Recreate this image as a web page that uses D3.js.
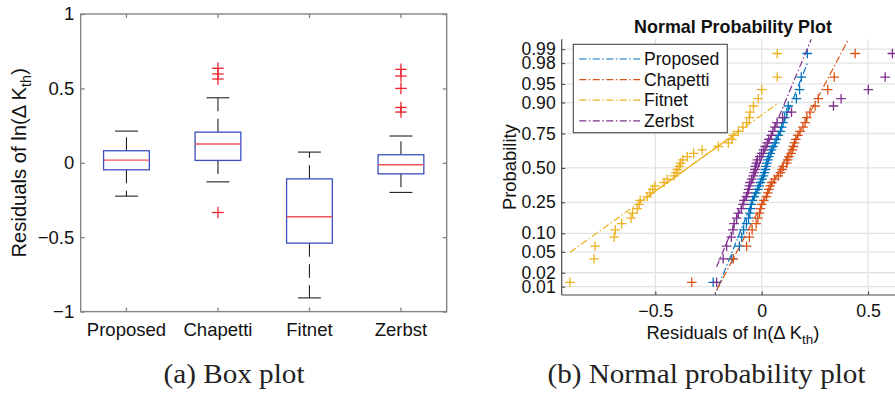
<!DOCTYPE html>
<html>
<head>
<meta charset="utf-8">
<script src="https://cdn.jsdelivr.net/npm/d3@7"></script>
<style>
  body { margin: 0; background: #fff; }
  svg { display: block; }
</style>
</head>
<body>
<svg id="fig" width="895" height="395"></svg>
<script>
// ---------- Box plot summary statistics (residuals of ln(ΔK_th)) ----------
const boxCategories = ["Proposed", "Chapetti", "Fitnet", "Zerbst"];
const boxQ1      = [-0.047, 0.016, -0.540, -0.074];
const boxMedian  = [ 0.018, 0.126, -0.363, -0.013];
const boxQ3      = [ 0.081, 0.206, -0.108,  0.054];
const boxLow     = [-0.224, -0.128, -0.908, -0.199];
const boxHigh    = [ 0.213, 0.437,  0.072,  0.180];
const boxOutliers = [
  [],
  [0.635, 0.597, 0.563, -0.334],
  [],
  [0.628, 0.583, 0.500, 0.372, 0.341]
];
const boxYTicks = [-1, -0.5, 0, 0.5, 1];

// ---------- Normal probability plot samples (sorted residuals) ----------
const probSeries = ["Proposed", "Chapetti", "Fitnet", "Zerbst"];
const probProposed = [
  -0.228, -0.141, -0.105, -0.094, -0.085, -0.072, -0.062, -0.056, -0.052, -0.049,
  -0.043, -0.035, -0.027, -0.018, -0.012, -0.006,  0.002,  0.008,  0.013,  0.017,
   0.020,  0.024,  0.029,  0.033,  0.040,  0.046,  0.053,  0.062,  0.068,  0.078,
   0.088,  0.094,  0.100,  0.108,  0.118,  0.125,  0.163,  0.178,  0.186,  0.214
];
const probChapetti = [
  -0.329, -0.133, -0.071, -0.058, -0.045, -0.026, -0.018, -0.010, -0.006,  0.000,
   0.010,  0.022,  0.028,  0.034,  0.040,  0.047,  0.060,  0.078,  0.088,  0.096,
   0.101,  0.117,  0.122,  0.128,  0.138,  0.144,  0.149,  0.154,  0.160,  0.170,
   0.180,  0.194,  0.204,  0.212,  0.227,  0.251,  0.266,  0.310,  0.341,  0.439
];
const probFitnet = [
  -0.901, -0.788, -0.783, -0.693, -0.688, -0.658, -0.614, -0.607, -0.585, -0.576,
  -0.571, -0.538, -0.525, -0.512, -0.502, -0.459, -0.444, -0.412, -0.403, -0.397,
  -0.387, -0.381, -0.371, -0.350, -0.320, -0.280, -0.204, -0.157, -0.140, -0.134,
  -0.110, -0.089, -0.071, -0.058, -0.055, -0.039, -0.016,  0.000,  0.073,  0.073
];
const probZerbst = [
  -0.212, -0.181, -0.165, -0.143, -0.135, -0.130, -0.118, -0.110, -0.096, -0.088,
  -0.084, -0.072, -0.066, -0.062, -0.058, -0.055, -0.047, -0.040, -0.036, -0.032,
  -0.030, -0.025, -0.020, -0.009, -0.001,  0.008,  0.016,  0.026,  0.033,  0.045,
   0.052,  0.062,  0.072,  0.098,  0.140,  0.337,  0.373,  0.501,  0.580,  0.614
];
const probColors = ["#0072BD", "#D95319", "#EDB120", "#7E2F8E"];
const probTicks = [0.01, 0.02, 0.05, 0.10, 0.25, 0.50, 0.75, 0.90, 0.95, 0.98, 0.99];
const probXTicks = [-0.5, 0, 0.5];

// ---------- helpers ----------
const sans = "'Liberation Sans', Arial, Helvetica, sans-serif";
const serif = "'Liberation Serif', 'Times New Roman', serif";
const svg = d3.select("#fig");

// inverse standard normal CDF (Acklam's rational approximation)
function normInv(p) {
  const a = [-3.969683028665376e+01, 2.209460984245205e+02, -2.759285104469687e+02,
             1.383577518672690e+02, -3.066479806614716e+01, 2.506628277459239e+00];
  const b = [-5.447609879822406e+01, 1.615858368580409e+02, -1.556989798598866e+02,
             6.680131188771972e+01, -1.328068155288572e+01];
  const c = [-7.784894002430293e-03, -3.223964580411365e-01, -2.400758277161838e+00,
             -2.549732539343734e+00, 4.374664141464968e+00, 2.938163982698783e+00];
  const d = [7.784695709041462e-03, 3.224671290700398e-01, 2.445134137142996e+00,
             3.754408661907416e+00];
  const pl = 0.02425;
  let q, r;
  if (p < pl) {
    q = Math.sqrt(-2 * Math.log(p));
    return (((((c[0]*q+c[1])*q+c[2])*q+c[3])*q+c[4])*q+c[5]) /
           ((((d[0]*q+d[1])*q+d[2])*q+d[3])*q+1);
  } else if (p <= 1 - pl) {
    q = p - 0.5; r = q * q;
    return (((((a[0]*r+a[1])*r+a[2])*r+a[3])*r+a[4])*r+a[5])*q /
           (((((b[0]*r+b[1])*r+b[2])*r+b[3])*r+b[4])*r+1);
  } else {
    q = Math.sqrt(-2 * Math.log(1 - p));
    return -(((((c[0]*q+c[1])*q+c[2])*q+c[3])*q+c[4])*q+c[5]) /
            ((((d[0]*q+d[1])*q+d[2])*q+d[3])*q+1);
  }
}

// percentile with midpoint plotting positions and linear interpolation
function prctile(sorted, p) {
  const n = sorted.length;
  const pos = p * n + 0.5;
  if (pos <= 1) return sorted[0];
  if (pos >= n) return sorted[n - 1];
  const lo = Math.floor(pos), f = pos - lo;
  return sorted[lo - 1] + f * (sorted[lo] - sorted[lo - 1]);
}

function plus(g, cx, cy, h, color, w) {
  g.append("line").attr("x1", cx - h).attr("x2", cx + h).attr("y1", cy).attr("y2", cy)
    .attr("stroke", color).attr("stroke-width", w);
  g.append("line").attr("x1", cx).attr("x2", cx).attr("y1", cy - h).attr("y2", cy + h)
    .attr("stroke", color).attr("stroke-width", w);
}

// =================== (a) Box plot ===================
const A = { left: 80.7, right: 446.7, top: 14, bottom: 311.6 };
const bx = d3.scaleBand().domain(boxCategories).range([A.left, A.right]).padding(0);
const by = d3.scaleLinear().domain([-1, 1]).range([A.bottom, A.top]);
const bw = bx.bandwidth();
const axisGrey = "#858585";

const gA = svg.append("g");

boxCategories.forEach((cat, i) => {
  const cx = bx(cat) + bw / 2;
  const half = bw * 0.25, capHalf = bw * 0.125;
  const g = gA.append("g");
  // whiskers (dashed, from box edge outward)
  g.append("line").attr("x1", cx).attr("x2", cx)
    .attr("y1", by(boxQ3[i])).attr("y2", by(boxHigh[i]))
    .attr("stroke", "#222").attr("stroke-width", 1.1).attr("stroke-dasharray", "13.5,7.5");
  g.append("line").attr("x1", cx).attr("x2", cx)
    .attr("y1", by(boxQ1[i])).attr("y2", by(boxLow[i]))
    .attr("stroke", "#222").attr("stroke-width", 1.1).attr("stroke-dasharray", "13.5,7.5");
  // caps
  [boxHigh[i], boxLow[i]].forEach(v => {
    g.append("line").attr("x1", cx - capHalf).attr("x2", cx + capHalf)
      .attr("y1", by(v)).attr("y2", by(v))
      .attr("stroke", "#222").attr("stroke-width", 1.1);
  });
  // box
  g.append("rect").attr("x", cx - half).attr("width", 2 * half)
    .attr("y", by(boxQ3[i])).attr("height", by(boxQ1[i]) - by(boxQ3[i]))
    .attr("fill", "none").attr("stroke", "#3a4fbf").attr("stroke-width", 1.3);
  // median
  g.append("line").attr("x1", cx - half).attr("x2", cx + half)
    .attr("y1", by(boxMedian[i])).attr("y2", by(boxMedian[i]))
    .attr("stroke", "#f0505c").attr("stroke-width", 1.4);
  // outliers
  boxOutliers[i].forEach(v => plus(g, cx, by(v), 5.8, "#ec2330", 1.3));
});

// frame
gA.append("rect").attr("x", A.left).attr("y", A.top)
  .attr("width", A.right - A.left).attr("height", A.bottom - A.top)
  .attr("fill", "none").attr("stroke", axisGrey).attr("stroke-width", 1.4);

// y axis left
const yAxisA = gA.append("g").attr("transform", `translate(${A.left},0)`)
  .call(d3.axisLeft(by).tickValues(boxYTicks).tickSize(-4).tickPadding(6.5)
    .tickFormat(d => d3.format("")(d)));
yAxisA.select(".domain").remove();
yAxisA.selectAll(".tick line").attr("stroke", axisGrey).attr("stroke-width", 1.3);
yAxisA.selectAll(".tick text").attr("font-family", sans).attr("font-size", 18.5)
  .attr("fill", "#111");
// mirrored ticks on right
const yAxisA2 = gA.append("g").attr("transform", `translate(${A.right},0)`)
  .call(d3.axisRight(by).tickValues(boxYTicks).tickSize(-4).tickFormat(""));
yAxisA2.select(".domain").remove();
yAxisA2.selectAll(".tick line").attr("stroke", axisGrey).attr("stroke-width", 1.3);

// x axis bottom (categories)
const xAxisA = gA.append("g").attr("transform", `translate(0,${A.bottom})`)
  .call(d3.axisBottom(bx).tickSize(-4).tickPadding(10.8));
xAxisA.select(".domain").remove();
xAxisA.selectAll(".tick line").attr("stroke", axisGrey).attr("stroke-width", 1.3);
xAxisA.selectAll(".tick text").attr("font-family", sans).attr("font-size", 18.5)
  .attr("fill", "#111");
const xAxisA2 = gA.append("g").attr("transform", `translate(0,${A.top})`)
  .call(d3.axisTop(bx).tickSize(-4).tickFormat(""));
xAxisA2.select(".domain").remove();
xAxisA2.selectAll(".tick line").attr("stroke", axisGrey).attr("stroke-width", 1.3);

// y label
const ylA = gA.append("text")
  .attr("transform", `translate(26,${(A.top + A.bottom) / 2}) rotate(-90)`)
  .attr("text-anchor", "middle").attr("font-family", sans).attr("font-size", 20.2)
  .attr("fill", "#111");
ylA.append("tspan").text("Residuals of ln(Δ K");
ylA.append("tspan").attr("font-size", 14.5).attr("dy", 5).text("th");
ylA.append("tspan").attr("dy", -5).text(")");

// caption
svg.append("text").attr("x", 234).attr("y", 382.7).attr("text-anchor", "middle")
  .attr("font-family", serif).attr("font-size", 27).attr("fill", "#222")
  .attr("textLength", 141).attr("lengthAdjust", "spacingAndGlyphs")
  .text("(a) Box plot");

// =================== (b) Normal probability plot ===================
const B = { left: 561.7, right: 904.3, top: 39.3, bottom: 295 };
const px = d3.scaleLinear().domain([-0.94, 0.67]).range([B.left, B.right]);
const pz = d3.scaleLinear().domain([-2.49, 2.52]).range([B.bottom, B.top]);
const gB = svg.append("g");
const darkAxis = "#4a4a4a";

gB.append("clipPath").attr("id", "plotClip").append("rect")
  .attr("x", B.left).attr("y", B.top)
  .attr("width", B.right - B.left).attr("height", B.bottom - B.top);

// grid
const grid = gB.append("g");
probTicks.forEach(p => {
  grid.append("line").attr("x1", B.left).attr("x2", B.right)
    .attr("y1", pz(normInv(p))).attr("y2", pz(normInv(p)))
    .attr("stroke", "#e3e3e3").attr("stroke-width", 1.3);
});
probXTicks.forEach(v => {
  grid.append("line").attr("x1", px(v)).attr("x2", px(v))
    .attr("y1", B.top).attr("y2", B.bottom)
    .attr("stroke", "#e3e3e3").attr("stroke-width", 1.3);
});

const plotArea = gB.append("g").attr("clip-path", "url(#plotClip)");
const dashDot = "7,2.5,1.5,2.5";
const allProb = [probProposed, probChapetti, probFitnet, probZerbst];

allProb.forEach((vals, s) => {
  const sorted = vals.slice().sort((a, b) => a - b);
  const n = sorted.length;
  const col = probColors[s];
  const g = plotArea.append("g");
  // sample points
  sorted.forEach((v, i) => {
    const z = normInv((i + 0.5) / n);
    plus(g, px(v), pz(z), 4.8, col, 1.3);
  });
  // reference line through the quartiles
  const q1 = prctile(sorted, 0.25), q3 = prctile(sorted, 0.75);
  const z1 = normInv(0.25), z3 = normInv(0.75);
  const zOf = x => z1 + (x - q1) * (z3 - z1) / (q3 - q1);
  g.append("line").attr("x1", px(q1)).attr("y1", pz(z1)).attr("x2", px(q3)).attr("y2", pz(z3))
    .attr("stroke", col).attr("stroke-width", 1.2);
  const xmin = sorted[0], xmax = sorted[n - 1];
  g.append("line").attr("x1", px(xmin)).attr("y1", pz(zOf(xmin)))
    .attr("x2", px(xmax)).attr("y2", pz(zOf(xmax)))
    .attr("stroke", col).attr("stroke-width", 1.2).attr("stroke-dasharray", dashDot);
});

// axes (left and bottom only)
const yAxisB = gB.append("g").attr("transform", `translate(${B.left},0)`)
  .call(d3.axisLeft(pz).tickValues(probTicks.map(normInv)).tickSize(-3.5).tickPadding(6)
    .tickFormat((d, i) => d3.format(".2f")(probTicks[i])));
yAxisB.select(".domain").attr("stroke", darkAxis).attr("stroke-width", 1.2)
  .attr("d", `M0,${B.top}V${B.bottom}`);
yAxisB.selectAll(".tick line").attr("stroke", darkAxis).attr("stroke-width", 1.1);
yAxisB.selectAll(".tick text").attr("font-family", sans).attr("font-size", 17.6)
  .attr("fill", "#111");

const xAxisB = gB.append("g").attr("transform", `translate(0,${B.bottom})`)
  .call(d3.axisBottom(px).tickValues(probXTicks).tickSize(-3.5).tickPadding(9.6)
    .tickFormat(d => d3.format("")(d)));
xAxisB.select(".domain").attr("stroke", darkAxis).attr("stroke-width", 1.2)
  .attr("d", `M${B.left},0H${B.right}`);
xAxisB.selectAll(".tick line").attr("stroke", darkAxis).attr("stroke-width", 1.1);
xAxisB.selectAll(".tick text").attr("font-family", sans).attr("font-size", 17.8)
  .attr("fill", "#111");

// labels and title
gB.append("text").attr("x", 733).attr("y", 33.3).attr("text-anchor", "middle")
  .attr("font-family", sans).attr("font-size", 17.9).attr("font-weight", "bold")
  .attr("fill", "#111").text("Normal Probability Plot");

const xlB = gB.append("text").attr("x", 733).attr("y", 339.3).attr("text-anchor", "middle")
  .attr("font-family", sans).attr("font-size", 18.4).attr("fill", "#111");
xlB.append("tspan").text("Residuals of ln(Δ K");
xlB.append("tspan").attr("font-size", 13.5).attr("dy", 5).text("th");
xlB.append("tspan").attr("dy", -5).text(")");

gB.append("text").attr("transform", `translate(515.5,${(B.top + B.bottom) / 2}) rotate(-90)`)
  .attr("text-anchor", "middle").attr("font-family", sans).attr("font-size", 18.4)
  .attr("fill", "#111").text("Probability");

// legend
const leg = gB.append("g");
leg.append("rect").attr("x", 573.3).attr("y", 44.3).attr("width", 154).attr("height", 88.4)
  .attr("fill", "#fff").attr("stroke", darkAxis).attr("stroke-width", 1.1);
probSeries.forEach((name, i) => {
  const yy = 59 + i * 20.6;
  leg.append("line").attr("x1", 579.3).attr("x2", 640).attr("y1", yy).attr("y2", yy)
    .attr("stroke", probColors[i]).attr("stroke-width", 1.2).attr("stroke-dasharray", dashDot);
  leg.append("text").attr("x", 644).attr("y", yy).attr("dy", "0.35em")
    .attr("font-family", sans).attr("font-size", 17.6).attr("fill", "#111").text(name);
});

// caption
svg.append("text").attr("x", 706.5).attr("y", 383.3).attr("text-anchor", "middle")
  .attr("font-family", serif).attr("font-size", 27).attr("fill", "#222")
  .attr("textLength", 318).attr("lengthAdjust", "spacingAndGlyphs")
  .text("(b) Normal probability plot");
</script>
</body>
</html>
